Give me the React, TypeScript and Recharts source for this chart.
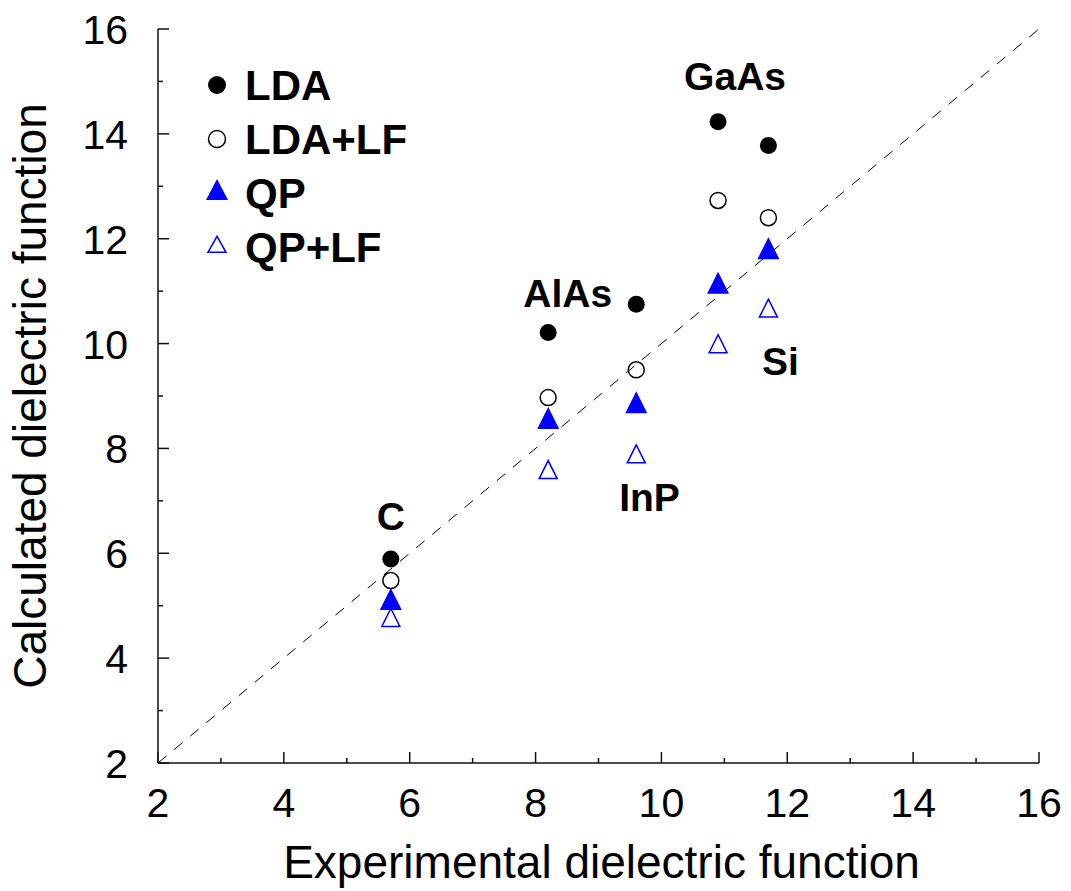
import React from 'react';
import { ScatterChart, Scatter, XAxis, YAxis, ReferenceLine, Legend } from 'recharts';

const materials = ['C', 'AlAs', 'InP', 'GaAs', 'Si'];
const experimental = [5.7, 8.2, 9.6, 10.9, 11.7];
const lda = [5.89, 10.21, 10.75, 14.23, 13.78];
const ldaLf = [5.48, 8.97, 9.5, 12.73, 12.4];
const qp = [5.06, 8.51, 8.81, 11.09, 11.75];
const qpLf = [4.72, 7.54, 7.84, 9.94, 10.62];

// where each material name sits (data units)
const labelX = [5.7, 8.51, 9.81, 11.17, 11.89];
const labelY = [6.71, 10.97, 7.08, 15.11, 9.67];

const axisTicks = [2, 3, 4, 5, 6, 7, 8, 9, 10, 11, 12, 13, 14, 15, 16];
const seriesNames = ['LDA', 'LDA+LF', 'QP', 'QP+LF'];

const FONT = '"Liberation Sans", Arial, Helvetica, sans-serif';
const BLUE = '#0000ff';
const AXIS = '#111';

const toPoints = (ys: number[]) => experimental.map((x, i) => ({ x, y: ys[i] }));
const labelData = materials.map((name, i) => ({ x: labelX[i], y: labelY[i], name }));

const triPath = (cx: number, cy: number, w: number, h: number) =>
  `M${cx},${cy - (h * 2) / 3} L${cx - w / 2},${cy + h / 3} L${cx + w / 2},${cy + h / 3} Z`;

const FilledCircle = ({ cx, cy }: any) => <circle cx={cx} cy={cy} r={8.5} fill="#000" />;
const OpenCircle = ({ cx, cy }: any) => (
  <circle cx={cx} cy={cy} r={8} fill="none" stroke="#000" strokeWidth={1.5} />
);
const FilledTriangle = ({ cx, cy }: any) => <path d={triPath(cx, cy, 22, 22)} fill={BLUE} />;
const OpenTriangle = ({ cx, cy }: any) => (
  <path d={triPath(cx, cy, 18, 18)} fill="none" stroke={BLUE} strokeWidth={1.5} />
);

const NameLabel = ({ cx, cy, payload }: any) => (
  <text x={cx} y={cy + 14} textAnchor="middle" fontSize={39} fontWeight="bold" fontFamily={FONT} fill="#000">
    {payload.name}
  </text>
);

const tickLen = (v: number) => (v % 2 === 0 ? 11 : 5);

const BottomTick = ({ x, y, payload }: any) => (
  <g>
    <line x1={x} y1={y} x2={x} y2={y - tickLen(payload.value)} stroke={AXIS} strokeWidth={1.5} />
    {payload.value % 2 === 0 && (
      <text x={x} y={y + 54} textAnchor="middle" fontSize={41} fontFamily={FONT} fill="#000">
        {payload.value}
      </text>
    )}
  </g>
);

const TopTick = ({ x, y, payload }: any) => (
  <line x1={x} y1={y} x2={x} y2={y + tickLen(payload.value)} stroke={AXIS} strokeWidth={1.5} />
);

const LeftTick = ({ x, y, payload }: any) => (
  <g>
    <line x1={x} y1={y} x2={x + tickLen(payload.value)} y2={y} stroke={AXIS} strokeWidth={1.5} />
    {payload.value % 2 === 0 && (
      <text x={x - 30} y={y + 15} textAnchor="end" fontSize={41} fontFamily={FONT} fill="#000">
        {payload.value}
      </text>
    )}
  </g>
);

const RightTick = ({ x, y, payload }: any) => (
  <line x1={x} y1={y} x2={x - tickLen(payload.value)} y2={y} stroke={AXIS} strokeWidth={1.5} />
);

const legendMarkers: Record<string, (cx: number, cy: number) => React.ReactNode> = {
  LDA: (cx, cy) => <circle cx={cx} cy={cy} r={9} fill="#000" />,
  'LDA+LF': (cx, cy) => <circle cx={cx} cy={cy} r={8.5} fill="none" stroke="#000" strokeWidth={1.5} />,
  QP: (cx, cy) => <path d={triPath(cx, cy, 22, 21)} fill={BLUE} />,
  'QP+LF': (cx, cy) => <path d={triPath(cx, cy, 18, 16)} fill="none" stroke={BLUE} strokeWidth={1.5} />,
};

const renderLegend = () => (
  <svg width={280} height={230}>
    {seriesNames.map((name, i) => {
      const rowY = 30 + i * 54;
      return (
        <g key={name}>
          {legendMarkers[name](27, rowY)}
          <text x={55} y={rowY + 15} fontSize={42} fontWeight="bold" fontFamily={FONT} fill="#000">
            {name}
          </text>
        </g>
      );
    })}
  </svg>
);

export default function App() {
  return (
    <div style={{ position: 'absolute', left: 0, top: 0, width: 1071, height: 891, background: '#fff' }}>
      <ScatterChart width={1071} height={891} margin={{ top: 29, right: 32, bottom: 0, left: 0 }}>
        <XAxis
          type="number"
          dataKey="x"
          domain={[2, 16]}
          ticks={axisTicks}
          interval={0}
          height={128}
          tickSize={0}
          tickMargin={0}
          tickLine={false}
          tick={<BottomTick />}
          axisLine={{ stroke: AXIS, strokeWidth: 1.5 }}
          label={{
            value: 'Experimental dielectric function',
            position: 'insideBottom',
            offset: 13,
            dx: 3,
            style: { fontSize: 46, fontFamily: FONT, fill: '#000' },
          }}
        />
        <XAxis
          xAxisId="top"
          orientation="top"
          type="number"
          domain={[2, 16]}
          ticks={axisTicks}
          interval={0}
          height={0}
          tickSize={0}
          tickMargin={0}
          tickLine={false}
          tick={<TopTick />}
          axisLine={{ stroke: AXIS, strokeWidth: 1.5 }}
        />
        <YAxis
          type="number"
          dataKey="y"
          domain={[2, 16]}
          ticks={axisTicks}
          interval={0}
          width={158}
          tickSize={0}
          tickMargin={0}
          tickLine={false}
          tick={<LeftTick />}
          axisLine={{ stroke: AXIS, strokeWidth: 1.5 }}
          label={{
            value: 'Calculated dielectric function',
            angle: -90,
            position: 'insideLeft',
            offset: 30,
            style: { fontSize: 46, fontFamily: FONT, fill: '#000', textAnchor: 'middle' },
          }}
        />
        <YAxis
          yAxisId="right"
          orientation="right"
          type="number"
          domain={[2, 16]}
          ticks={axisTicks}
          interval={0}
          width={0}
          tickSize={0}
          tickMargin={0}
          tickLine={false}
          tick={<RightTick />}
          axisLine={{ stroke: AXIS, strokeWidth: 1.5 }}
        />
        <ReferenceLine
          segment={[
            { x: 2, y: 2 },
            { x: 16, y: 16 },
          ]}
          stroke="#000"
          strokeWidth={1}
          strokeDasharray="11 10"
        />
        <Legend
          content={renderLegend}
          layout="horizontal"
          verticalAlign="middle"
          align="center"
          wrapperStyle={{ position: 'absolute', left: 190, top: 55, width: 280, height: 230 }}
        />
        <Scatter name="LDA" data={toPoints(lda)} shape={<FilledCircle />} isAnimationActive={false} />
        <Scatter name="LDA+LF" data={toPoints(ldaLf)} shape={<OpenCircle />} isAnimationActive={false} />
        <Scatter name="QP" data={toPoints(qp)} shape={<FilledTriangle />} isAnimationActive={false} />
        <Scatter name="QP+LF" data={toPoints(qpLf)} shape={<OpenTriangle />} isAnimationActive={false} />
        <Scatter
          name="labels"
          legendType="none"
          data={labelData}
          shape={<NameLabel />}
          isAnimationActive={false}
        />
      </ScatterChart>
    </div>
  );
}
